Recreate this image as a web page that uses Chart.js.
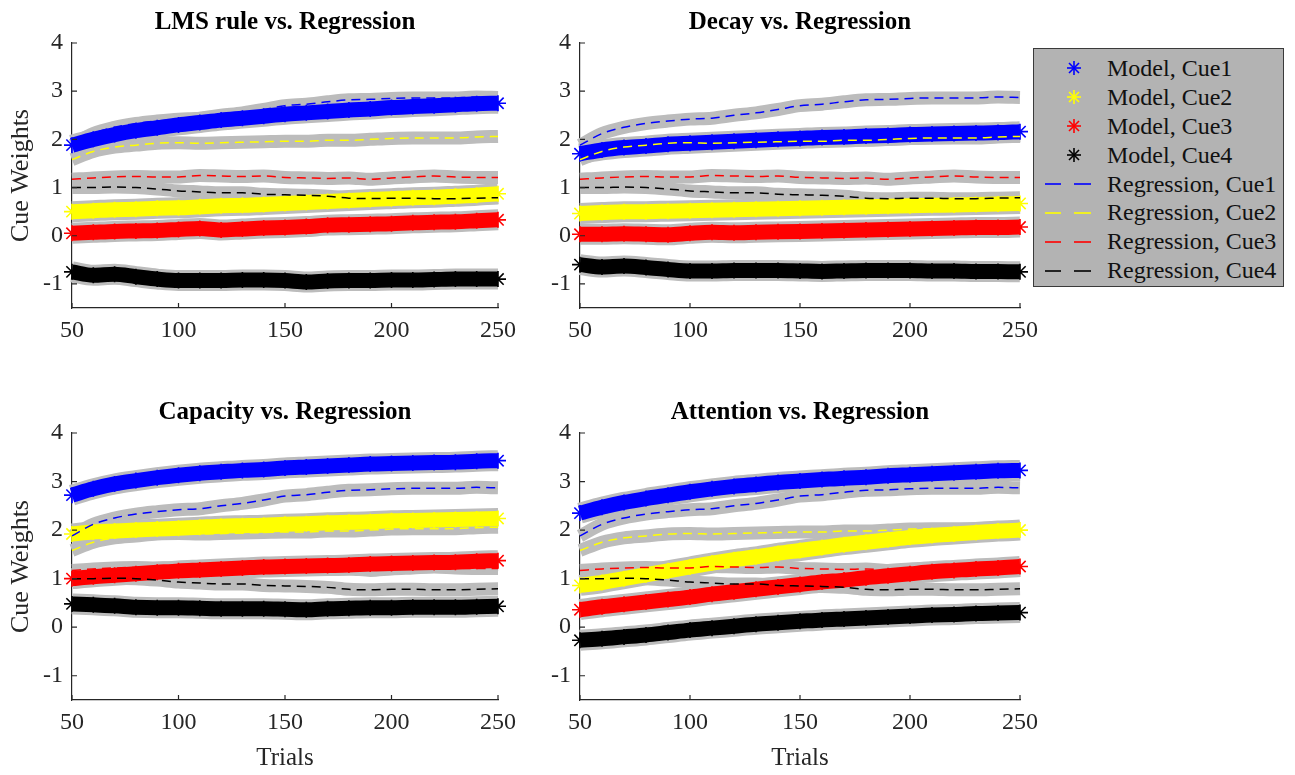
<!DOCTYPE html>
<html>
<head>
<meta charset="utf-8">
<title>Cue Weights: Models vs. Regression</title>
<script src="https://cdn.jsdelivr.net/npm/chart.js@4.4.1/dist/chart.umd.min.js"></script>
<style>
  body { margin: 0; background: #fff; width: 1295px; height: 775px; position: relative; overflow: hidden;
         font-family: "Liberation Serif", "Times New Roman", serif; }
  canvas { position: absolute; }
  #legend { position: absolute; left: 1033px; top: 48px; width: 251px; height: 239px; background: #b3b3b3;
            border: 1px solid #3a3a3a; padding-top: 5px; box-sizing: border-box; }
  .row { height: 28.9px; display: flex; align-items: center; font-size: 24px; color: #111; white-space: nowrap; }
  .row svg { margin-left: 10px; margin-right: 15px; flex: none; }
</style>
</head>
<body>
<canvas id="c1" width="520" height="345" style="left:0;top:0"></canvas>
<canvas id="c2" width="512" height="345" style="left:530px;top:0"></canvas>
<canvas id="c3" width="520" height="385" style="left:0;top:390px"></canvas>
<canvas id="c4" width="512" height="385" style="left:530px;top:390px"></canvas>
<div id="legend"></div>

<script>
/* ----------------------------------------------------------
   DATA (every 10 trials)
---------------------------------------------------------- */
const trials = [50, 60, 70, 80, 90, 100, 110, 120, 130, 140, 150, 160, 170, 180, 190, 200, 210, 220, 230, 240, 250];
const xTicks = [50, 100, 150, 200, 250];
const yTicks = [-1, 0, 1, 2, 3, 4];
const cueNames = ["Cue1", "Cue2", "Cue3", "Cue4"];
const cueColors = ["#0000ff", "#ffff00", "#ff0000", "#000000"];
const panelTitles = ["LMS rule vs. Regression", "Decay vs. Regression", "Capacity vs. Regression", "Attention vs. Regression"];

// regression weights (same in every panel)
const regCue1 = [1.88, 2.12, 2.25, 2.33, 2.38, 2.42, 2.44, 2.50, 2.55, 2.62, 2.70, 2.73, 2.78, 2.82, 2.83, 2.85, 2.86, 2.86, 2.86, 2.88, 2.87];
const regCue2 = [1.58, 1.75, 1.84, 1.88, 1.92, 1.93, 1.92, 1.93, 1.94, 1.95, 1.96, 1.96, 1.98, 1.98, 2.00, 2.02, 2.03, 2.03, 2.03, 2.05, 2.06];
const regCue3 = [1.17, 1.20, 1.22, 1.23, 1.22, 1.22, 1.25, 1.24, 1.23, 1.24, 1.21, 1.20, 1.19, 1.20, 1.17, 1.20, 1.22, 1.24, 1.22, 1.21, 1.21];
const regCue4 = [1.00, 1.00, 1.01, 1.00, 0.97, 0.93, 0.91, 0.89, 0.89, 0.86, 0.85, 0.84, 0.82, 0.78, 0.77, 0.78, 0.78, 0.77, 0.77, 0.78, 0.79];

// LMS rule
const lmsCue1 = [1.88, 2.00, 2.10, 2.18, 2.24, 2.30, 2.35, 2.40, 2.44, 2.48, 2.52, 2.55, 2.58, 2.61, 2.63, 2.66, 2.68, 2.70, 2.72, 2.74, 2.75];
const lmsCue2 = [0.50, 0.52, 0.54, 0.55, 0.57, 0.58, 0.60, 0.62, 0.63, 0.65, 0.67, 0.69, 0.71, 0.73, 0.75, 0.77, 0.79, 0.80, 0.82, 0.84, 0.87];
const lmsCue3 = [0.05, 0.07, 0.09, 0.10, 0.11, 0.13, 0.15, 0.12, 0.14, 0.16, 0.17, 0.19, 0.22, 0.23, 0.24, 0.25, 0.27, 0.28, 0.29, 0.31, 0.33];
const lmsCue4 = [-0.75, -0.82, -0.80, -0.85, -0.90, -0.93, -0.93, -0.93, -0.92, -0.92, -0.93, -0.96, -0.94, -0.93, -0.93, -0.92, -0.92, -0.91, -0.90, -0.90, -0.90];

// Decay
const decCue1 = [1.70, 1.78, 1.83, 1.86, 1.90, 1.92, 1.94, 1.96, 1.98, 2.00, 2.02, 2.04, 2.05, 2.07, 2.08, 2.10, 2.11, 2.12, 2.13, 2.14, 2.16];
const decCue2 = [0.46, 0.48, 0.50, 0.50, 0.51, 0.52, 0.53, 0.54, 0.55, 0.56, 0.57, 0.58, 0.59, 0.60, 0.61, 0.62, 0.63, 0.64, 0.65, 0.66, 0.67];
const decCue3 = [0.03, 0.03, 0.04, 0.03, 0.02, 0.05, 0.07, 0.06, 0.07, 0.08, 0.09, 0.10, 0.11, 0.12, 0.13, 0.14, 0.15, 0.16, 0.17, 0.17, 0.18];
const decCue4 = [-0.60, -0.65, -0.63, -0.66, -0.70, -0.73, -0.73, -0.72, -0.72, -0.72, -0.73, -0.74, -0.73, -0.72, -0.72, -0.72, -0.73, -0.73, -0.74, -0.74, -0.75];

// Capacity
const capCue1 = [2.72, 2.85, 2.95, 3.02, 3.08, 3.13, 3.17, 3.20, 3.23, 3.25, 3.28, 3.30, 3.32, 3.34, 3.36, 3.37, 3.38, 3.39, 3.40, 3.42, 3.43];
const capCue2 = [1.92, 1.96, 1.98, 2.00, 2.02, 2.04, 2.06, 2.08, 2.09, 2.10, 2.12, 2.13, 2.15, 2.16, 2.17, 2.19, 2.20, 2.21, 2.22, 2.23, 2.24];
const capCue3 = [1.00, 1.04, 1.07, 1.10, 1.13, 1.16, 1.18, 1.20, 1.22, 1.24, 1.25, 1.26, 1.27, 1.28, 1.30, 1.31, 1.32, 1.33, 1.34, 1.36, 1.37];
const capCue4 = [0.48, 0.46, 0.44, 0.41, 0.40, 0.40, 0.39, 0.38, 0.38, 0.38, 0.37, 0.36, 0.38, 0.39, 0.40, 0.40, 0.41, 0.41, 0.41, 0.42, 0.43];

// Attention
const attCue1 = [2.35, 2.47, 2.57, 2.65, 2.72, 2.79, 2.85, 2.90, 2.94, 2.98, 3.01, 3.04, 3.07, 3.09, 3.12, 3.14, 3.16, 3.18, 3.20, 3.22, 3.23];
const attCue2 = [0.86, 0.92, 1.00, 1.08, 1.16, 1.24, 1.32, 1.39, 1.45, 1.52, 1.58, 1.64, 1.70, 1.75, 1.80, 1.85, 1.89, 1.92, 1.95, 1.98, 2.00];
const attCue3 = [0.36, 0.42, 0.47, 0.52, 0.57, 0.62, 0.68, 0.73, 0.78, 0.83, 0.88, 0.93, 0.97, 1.02, 1.06, 1.10, 1.14, 1.17, 1.20, 1.22, 1.25];
const attCue4 = [-0.27, -0.24, -0.20, -0.16, -0.11, -0.06, -0.02, 0.02, 0.06, 0.09, 0.12, 0.15, 0.17, 0.19, 0.21, 0.23, 0.25, 0.26, 0.28, 0.29, 0.30];

/* ----------------------------------------------------------
   STYLE
---------------------------------------------------------- */
const FONT = "'Liberation Serif', 'Times New Roman', serif";
const BAND = "#bcbcbc";
const AXIS = "#262626";

function toXY(vals) {
  return vals.map((v, i) => ({ x: trials[i], y: v }));
}

function buildDatasets(model) {
  const regression = [regCue1, regCue2, regCue3, regCue4];
  const sets = [];
  model.forEach((vals, i) => {
    sets.push({ data: toXY(vals), borderColor: BAND, borderWidth: 21, pointRadius: 0, order: 5 });
    sets.push({
      label: "Model, " + cueNames[i], data: toXY(vals),
      borderColor: cueColors[i], borderWidth: 15,
      pointStyle: "star", pointRadius: 8, pointBorderColor: cueColors[i], pointBorderWidth: 1.6,
      order: 3
    });
  });
  regression.forEach((vals, i) => {
    sets.push({ data: toXY(vals), borderColor: BAND, borderWidth: 13, pointRadius: 0, order: 5 });
    sets.push({
      label: "Regression, " + cueNames[i], data: toXY(vals),
      borderColor: cueColors[i], borderWidth: 1.5, borderDash: [9, 6], pointRadius: 0,
      order: 1
    });
  });
  return sets;
}

// MATLAB style ticks pointing into the axes
const inwardTicks = {
  id: "inwardTicks",
  afterDraw(chart) {
    const { ctx, chartArea: a, scales: { x, y } } = chart;
    ctx.save();
    ctx.strokeStyle = AXIS;
    ctx.lineWidth = 1.2;
    ctx.beginPath();
    x.ticks.forEach((t, i) => {
      const px = x.getPixelForTick(i);
      ctx.moveTo(px, a.bottom); ctx.lineTo(px, a.bottom - 5);
    });
    y.ticks.forEach((t, i) => {
      const py = y.getPixelForTick(i);
      ctx.moveTo(a.left, py); ctx.lineTo(a.left + 5, py);
    });
    ctx.stroke();
    ctx.restore();
  }
};

function makeChart(id, title, model, opts) {
  return new Chart(document.getElementById(id), {
    type: "line",
    data: { datasets: buildDatasets(model) },
    plugins: [inwardTicks],
    options: {
      responsive: false,
      animation: false,
      events: [],
      datasets: { line: { cubicInterpolationMode: "monotone", clip: false } },
      layout: { padding: { left: 0, right: 22, top: 0, bottom: 0 } },
      plugins: {
        legend: { display: false },
        tooltip: { enabled: false },
        title: {
          display: true, text: title, fullSize: false, color: "#000",
          font: { family: FONT, size: 25, weight: "bold" },
          padding: { top: 8, bottom: 5 }
        }
      },
      scales: {
        x: {
          type: "linear", min: 50, max: 250,
          afterBuildTicks: s => { s.ticks = xTicks.map(v => ({ value: v })); },
          afterFit: s => { s.height = opts.xHeight; s.paddingLeft = 0; s.paddingRight = 0; },
          grid: { drawOnChartArea: false, drawTicks: false },
          border: { display: true, color: AXIS, width: 1.2 },
          ticks: { color: AXIS, padding: 8, maxRotation: 0, font: { family: FONT, size: 24 } },
          title: {
            display: opts.xTitle, text: "Trials", color: AXIS,
            font: { family: FONT, size: 25 }, padding: { top: 0, bottom: 2 }
          }
        },
        y: {
          type: "linear", min: -1.5, max: 4,
          afterBuildTicks: s => { s.ticks = yTicks.map(v => ({ value: v })); },
          afterFit: s => { s.width = opts.yWidth; s.paddingTop = 0; s.paddingBottom = 0; },
          grid: { drawOnChartArea: false, drawTicks: false },
          border: { display: true, color: AXIS, width: 1.2 },
          ticks: { color: AXIS, padding: 9, font: { family: FONT, size: 24 } },
          title: {
            display: opts.yTitle, text: "Cue Weights", color: AXIS,
            font: { family: FONT, size: 26 }, padding: { top: 6, bottom: 0 }
          }
        }
      }
    }
  });
}

makeChart("c1", panelTitles[0], [lmsCue1, lmsCue2, lmsCue3, lmsCue4], { yWidth: 72, yTitle: true, xHeight: 37, xTitle: false });
makeChart("c2", panelTitles[1], [decCue1, decCue2, decCue3, decCue4], { yWidth: 50, yTitle: false, xHeight: 37, xTitle: false });
makeChart("c3", panelTitles[2], [capCue1, capCue2, capCue3, capCue4], { yWidth: 72, yTitle: true, xHeight: 75, xTitle: true });
makeChart("c4", panelTitles[3], [attCue1, attCue2, attCue3, attCue4], { yWidth: 50, yTitle: false, xHeight: 75, xTitle: true });

/* ----------------------------------------------------------
   LEGEND (shared, right of the top row)
---------------------------------------------------------- */
const legend = document.getElementById("legend");
function starSvg(c) {
  return `<svg width="48" height="16" viewBox="0 0 48 16"><g stroke="${c}" stroke-width="1.6">
    <line x1="30" y1="1" x2="30" y2="15"/><line x1="23" y1="8" x2="37" y2="8"/>
    <line x1="25" y1="3" x2="35" y2="13"/><line x1="25" y1="13" x2="35" y2="3"/></g></svg>`;
}
function dashSvg(c) {
  return `<svg width="48" height="16" viewBox="0 0 48 16"><g stroke="${c}" stroke-width="1.6">
    <line x1="1" y1="8" x2="17" y2="8"/><line x1="30" y1="8" x2="47" y2="8"/></g></svg>`;
}
cueNames.forEach((n, i) => {
  legend.insertAdjacentHTML("beforeend", `<div class="row">${starSvg(cueColors[i])}<span>Model, ${n}</span></div>`);
});
cueNames.forEach((n, i) => {
  legend.insertAdjacentHTML("beforeend", `<div class="row">${dashSvg(cueColors[i])}<span>Regression, ${n}</span></div>`);
});
</script>
</body>
</html>
